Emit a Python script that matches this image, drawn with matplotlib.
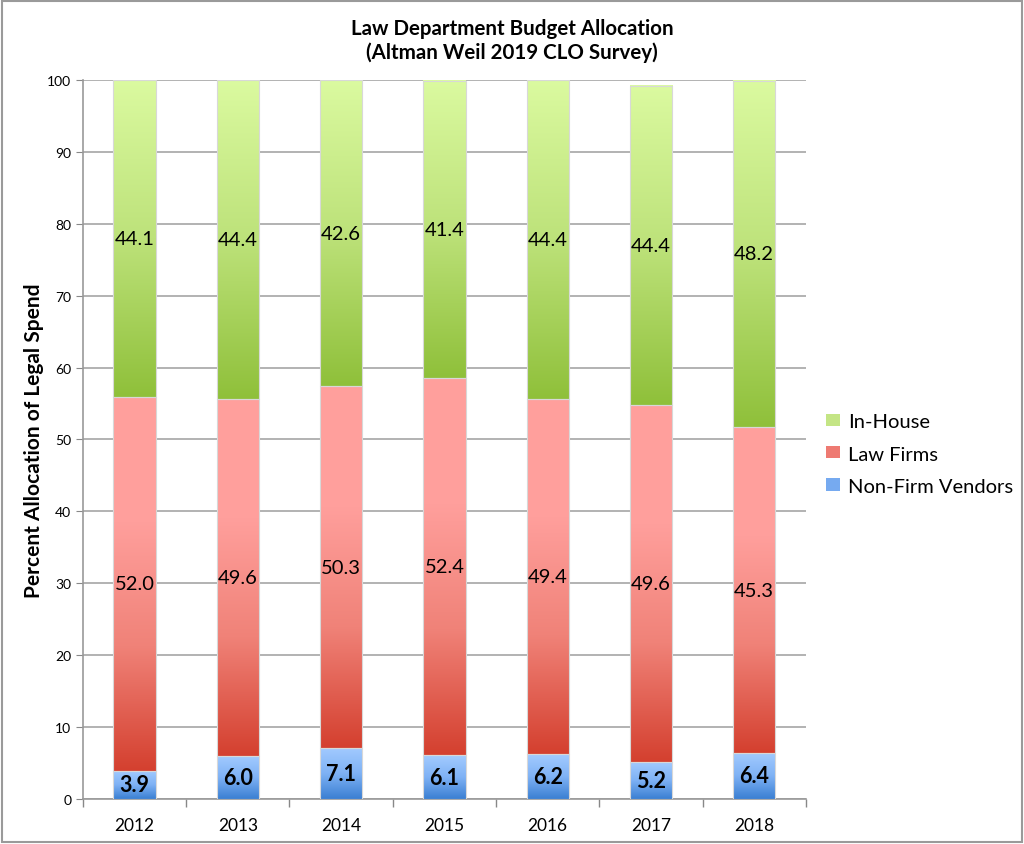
import matplotlib.pyplot as plt
import numpy as np
from matplotlib.colors import LinearSegmentedColormap
from matplotlib.patches import Patch, Rectangle

# 数据
years = ['2012', '2013', '2014', '2015', '2016', '2017', '2018']
vendors = [3.9, 6.0, 7.1, 6.1, 6.2, 5.2, 6.4]
law_firms = [52.0, 49.6, 50.3, 52.4, 49.4, 49.6, 45.3]
in_house = [44.1, 44.4, 42.6, 41.4, 44.4, 44.4, 48.2]

plt.rcParams['font.family'] = ['Lato', 'DejaVu Sans']

# 渐变色（底部 -> 顶部）
cmap_blue = LinearSegmentedColormap.from_list('b', ['#3a7fd2', '#7fb2f5', '#a3cbff'])
cmap_red = LinearSegmentedColormap.from_list('r', ['#d4402f', '#f08278', '#ff9f9c', '#ffa09d'])
cmap_green = LinearSegmentedColormap.from_list('g', ['#8fc03a', '#bde27a', '#dbfaa0'])

fig = plt.figure(figsize=(10.24, 8.45), dpi=100)
ax = fig.add_axes([0.081, 0.0533, 0.706, 0.851])

grad = np.linspace(0, 1, 256).reshape(-1, 1)
width = 0.41

def draw_segment(x, bottom, height, cmap):
    ax.imshow(grad, cmap=cmap, origin='lower', aspect='auto',
              extent=[x - width / 2, x + width / 2, bottom, bottom + height],
              zorder=3, interpolation='bilinear')
    ax.add_patch(Rectangle((x - width / 2, bottom), width, height, fill=False,
                           edgecolor='#d8d8d8', linewidth=0.8, zorder=4))

for i in range(len(years)):
    b1 = vendors[i]
    b2 = vendors[i] + law_firms[i]
    draw_segment(i, 0, vendors[i], cmap_blue)
    draw_segment(i, b1, law_firms[i], cmap_red)
    draw_segment(i, b2, in_house[i], cmap_green)
    ax.text(i, b1 / 2, f'{vendors[i]:.1f}', ha='center', va='center',
            fontsize=15.5, fontweight='bold', zorder=5)
    ax.text(i, b1 + law_firms[i] / 2, f'{law_firms[i]:.1f}', ha='center', va='center',
            fontsize=14.5, zorder=5)
    ax.text(i, b2 + in_house[i] / 2, f'{in_house[i]:.1f}', ha='center', va='center',
            fontsize=14.5, zorder=5)

ax.set_xlim(-0.5, len(years) - 0.5)
ax.set_ylim(0, 100)
ax.set_yticks(range(0, 101, 10))
ax.set_xticks(range(len(years)))
ax.set_xticklabels(years, fontsize=12.5)
ax.set_xticks(np.arange(-0.5, len(years), 1), minor=True)
ax.tick_params(axis='x', which='major', length=0, pad=13)
ax.tick_params(axis='x', which='minor', length=6, color='#888888', width=1)
ax.tick_params(axis='y', length=5, color='#888888', labelsize=10)

ax.grid(axis='y', color='#a6a6a6', linewidth=1.2, zorder=0)
ax.set_axisbelow(True)
for s in ['top', 'right']:
    ax.spines[s].set_visible(False)
for s in ['left', 'bottom']:
    ax.spines[s].set_color('#999999')
    ax.spines[s].set_linewidth(1.2)

ax.set_ylabel('Percent Allocation of Legal Spend', fontsize=15, fontweight='bold', labelpad=2)
fig.text(0.5, 1 - 41 / 845, 'Law Department Budget Allocation\n(Altman Weil 2019 CLO Survey)',
         ha='center', va='center', fontsize=14.8, fontweight='bold', linespacing=1.15)

handles = [Patch(facecolor='#c4e585', label='In-House'),
           Patch(facecolor='#ee7a72', label='Law Firms'),
           Patch(facecolor='#76aaf0', label='Non-Firm Vendors')]
fig.legend(handles=handles, loc='center left', bbox_to_anchor=(0.797, 0.4615),
           frameon=False, fontsize=14.5, handlelength=0.7, handleheight=0.55,
           handletextpad=0.4, labelspacing=0.75, borderpad=0)

# 外边框
fig.patches.append(Rectangle((0.002, 0.002), 0.996, 0.996, transform=fig.transFigure,
                             fill=False, edgecolor='#9a9a9a', linewidth=1.5))

plt.savefig('out.png', dpi=100)
